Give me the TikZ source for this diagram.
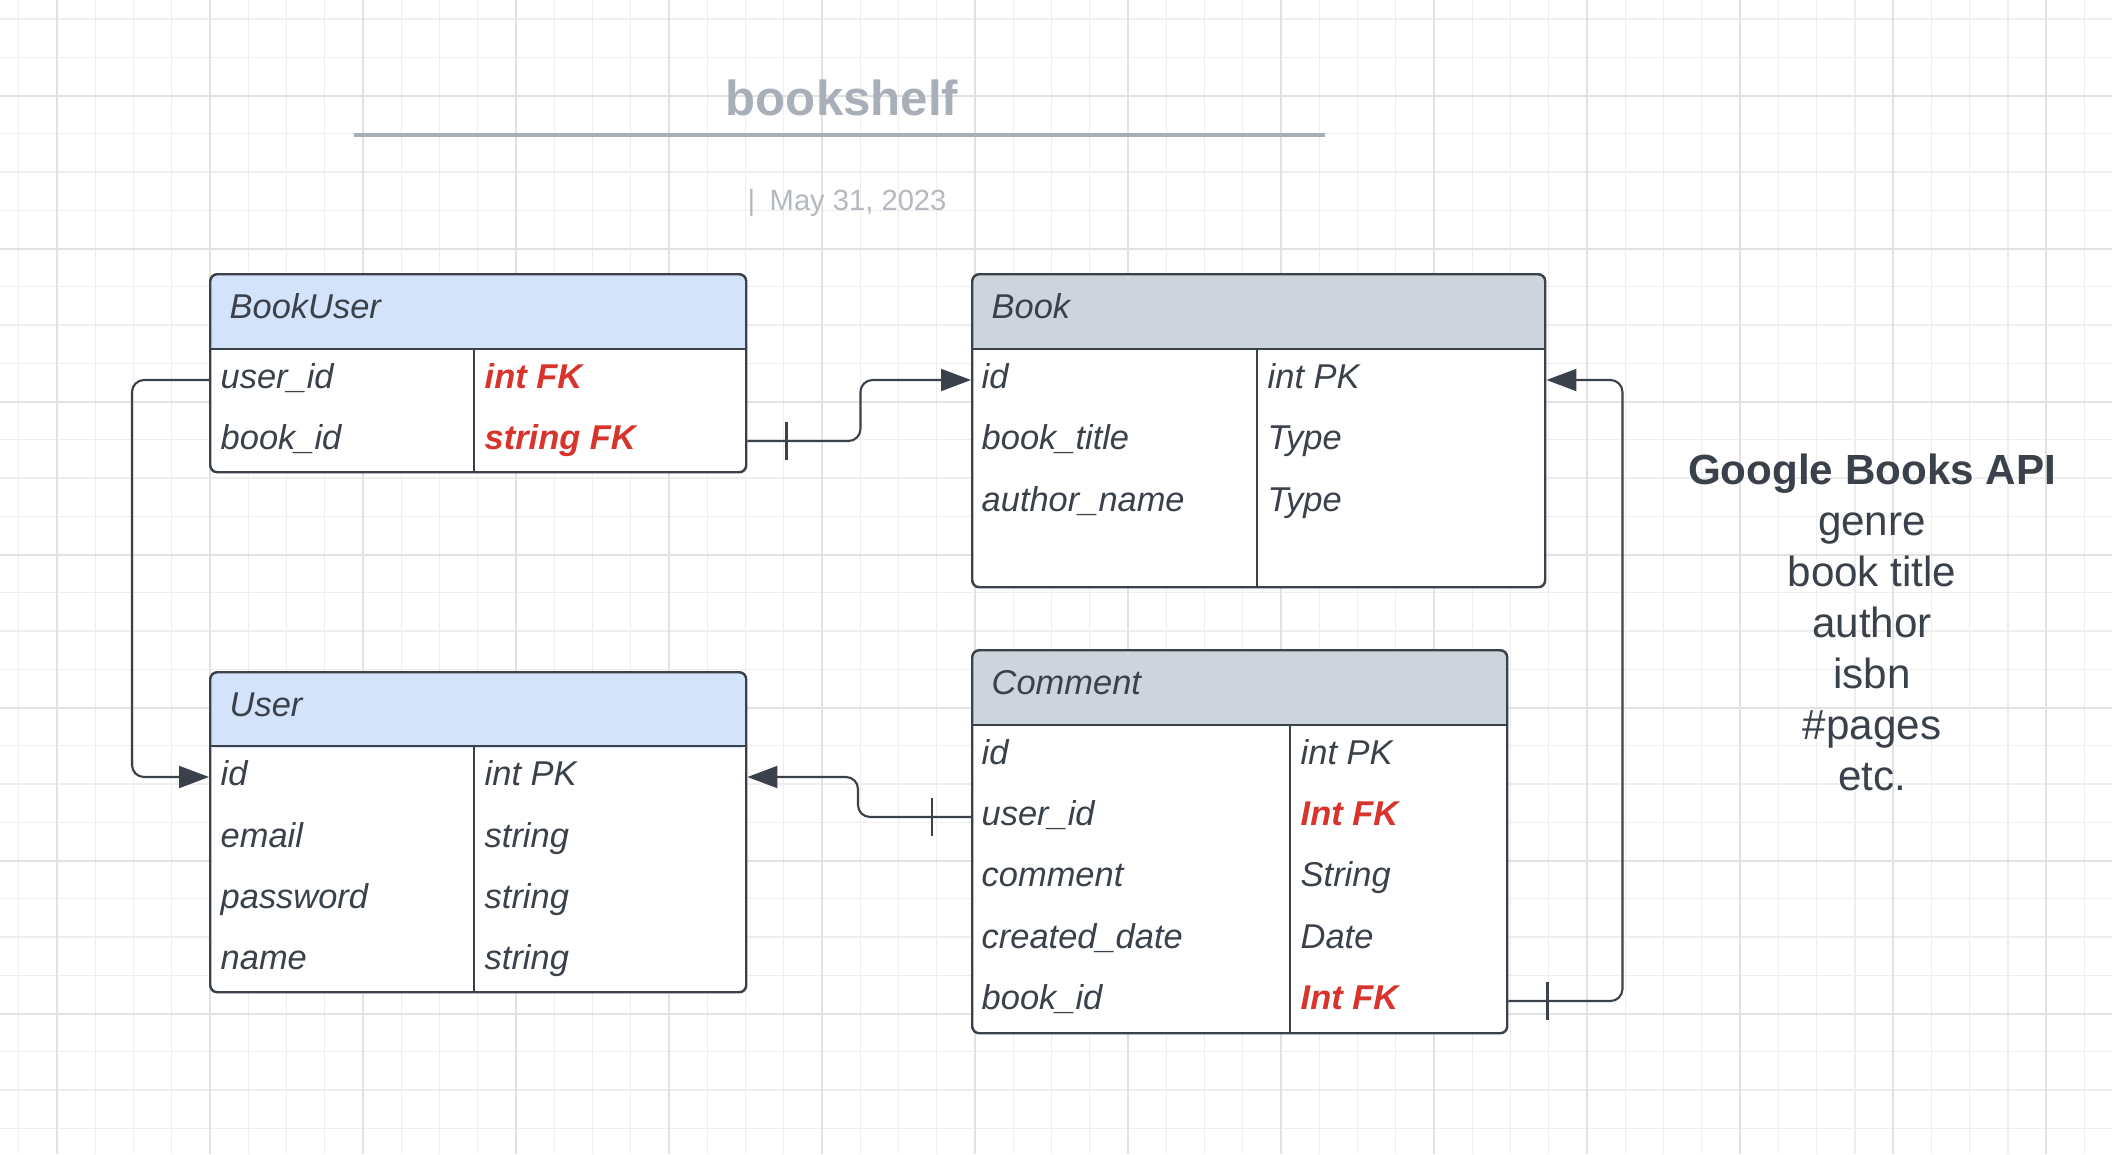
\documentclass[tikz,border=0pt]{standalone}
\usepackage{fontspec}
\setmainfont{Liberation Sans}
\usepackage{tikz}
\usetikzlibrary{calc}
\usetikzlibrary{positioning}
\usetikzlibrary{arrows.meta}
\definecolor{inkgray}{HTML}{3A414A}
\definecolor{fkred}{HTML}{D8342C}
\definecolor{hdblue}{HTML}{D3E3FA}
\definecolor{hdgray}{HTML}{CED4DB}
\definecolor{titlegray}{HTML}{A9AFB9}
\definecolor{dategray}{HTML}{B4B9C1}
\definecolor{gridminor}{HTML}{EEEEEE}
\definecolor{gridmajor}{HTML}{E2E2E2}
\tikzset{
    tblbox/.style={
        draw=inkgray,
        line width=0.7pt,
        fill=white,
        rounded corners=2pt,
        anchor=north west,
        inner sep=0pt
    },
    % header band, clipped to the rounded box
    hdrfill/.style={
        path picture={\fill[#1] (path picture bounding box.north west)
            rectangle ([yshift=-0.76cm]path picture bounding box.north east);}
    },
    tblline/.style={draw=inkgray, line width=0.7pt},
    hdrtxt/.style={
        anchor=west,
        inner sep=0pt,
        text height=7pt,
        text depth=0pt,
        text=inkgray,
        font=\fontsize{9.8}{12}\selectfont\itshape
    },
    fieldtxt/.style={
        hdrtxt,
        text depth=2.3pt
    },
    fktxt/.style={
        fieldtxt,
        text=fkred,
        font=\fontsize{9.8}{12}\selectfont\bfseries\itshape
    },
    link/.style={
        draw=inkgray,
        line width=0.6pt,
        rounded corners=0.12cm,
        -{Triangle[length=0.3cm, width=0.22cm]}
    },
    onetick/.style={draw=inkgray, line width=0.6pt}
}

\begin{document}
\begin{tikzpicture}

    \useasboundingbox (0,0) rectangle (21.12,-11.54);
    \fill[white] (0,0) rectangle (21.12,-11.54);

    % grid
    \foreach \k in {0,...,54}
        \draw[gridminor, line width=0.4pt] ({0.1875+0.3825*\k},0) -- ++(0,-11.54);
    \foreach \k in {0,...,29}
        \draw[gridminor, line width=0.4pt] (0,{-0.19-0.3825*\k}) -- ++(21.12,0);
    \foreach \k in {0,...,13}
        \draw[gridmajor, line width=0.5pt] ({0.57+1.53*\k},0) -- ++(0,-11.54);
    \foreach \k in {0,...,6}
        \draw[gridmajor, line width=0.5pt] (0,{-0.96-1.53*\k}) -- ++(21.12,0);

    % title
    \node[text=titlegray, font=\fontsize{14}{16}\selectfont\bfseries] (title) at (8.42,-0.98) {bookshelf};
    \draw[titlegray, line width=1.1pt] (3.54,-1.35) -- (13.25,-1.35);
    \node[text=dategray, font=\fontsize{8.3}{10}\selectfont] (date) at (8.47,-2.03) {|\hspace{0.5em}May 31, 2023};

    % BookUser
    \node[tblbox, hdrfill=hdblue, minimum width=5.36cm, minimum height=1.98cm] (bookuser) at (2.09,-2.73) {};
    \draw[tblline] (2.09,-3.49) -- (7.45,-3.49);
    \draw[tblline] (4.74,-3.49) -- (4.74,-4.71);
    \node[hdrtxt] (bookuser-t) at (2.29,-3.06) {BookUser};
    \node[fieldtxt] (bu-f1) at (2.20,-3.80) {user\_id};
    \node[fktxt] (bu-t1) at (4.84,-3.80) {int FK};
    \node[fieldtxt] (bu-f2) at (2.20,-4.41) {book\_id};
    \node[fktxt] (bu-t2) at (4.84,-4.41) {string FK};

    % Book
    \node[tblbox, hdrfill=hdgray, minimum width=5.73cm, minimum height=3.13cm] (book) at (9.71,-2.73) {};
    \draw[tblline] (9.71,-3.49) -- (15.44,-3.49);
    \draw[tblline] (12.57,-3.49) -- (12.57,-5.86);
    \node[hdrtxt] (book-t) at (9.91,-3.06) {Book};
    \node[fieldtxt] (bk-f1) at (9.81,-3.80) {id};
    \node[fieldtxt] (bk-t1) at (12.67,-3.80) {int PK};
    \node[fieldtxt] (bk-f2) at (9.81,-4.41) {book\_title};
    \node[fieldtxt] (bk-t2) at (12.67,-4.41) {Type};
    \node[fieldtxt] (bk-f3) at (9.81,-5.03) {author\_name};
    \node[fieldtxt] (bk-t3) at (12.67,-5.03) {Type};

    % User
    \node[tblbox, hdrfill=hdblue, minimum width=5.36cm, minimum height=3.20cm] (user) at (2.09,-6.71) {};
    \draw[tblline] (2.09,-7.46) -- (7.45,-7.46);
    \draw[tblline] (4.74,-7.46) -- (4.74,-9.91);
    \node[hdrtxt] (user-t) at (2.29,-7.04) {User};
    \node[fieldtxt] (us-f1) at (2.20,-7.77) {id};
    \node[fieldtxt] (us-t1) at (4.84,-7.77) {int PK};
    \node[fieldtxt] (us-f2) at (2.20,-8.39) {email};
    \node[fieldtxt] (us-t2) at (4.84,-8.39) {string};
    \node[fieldtxt] (us-f3) at (2.20,-9.00) {password};
    \node[fieldtxt] (us-t3) at (4.84,-9.00) {string};
    \node[fieldtxt] (us-f4) at (2.20,-9.61) {name};
    \node[fieldtxt] (us-t4) at (4.84,-9.61) {string};

    % Comment
    \node[tblbox, hdrfill=hdgray, minimum width=5.35cm, minimum height=3.83cm] (comment) at (9.71,-6.49) {};
    \draw[tblline] (9.71,-7.25) -- (15.06,-7.25);
    \draw[tblline] (12.90,-7.25) -- (12.90,-10.32);
    \node[hdrtxt] (comment-t) at (9.91,-6.82) {Comment};
    \node[fieldtxt] (cm-f1) at (9.81,-7.56) {id};
    \node[fieldtxt] (cm-t1) at (13.00,-7.56) {int PK};
    \node[fieldtxt] (cm-f2) at (9.81,-8.17) {user\_id};
    \node[fktxt] (cm-t2) at (13.00,-8.17) {Int FK};
    \node[fieldtxt] (cm-f3) at (9.81,-8.78) {comment};
    \node[fieldtxt] (cm-t3) at (13.00,-8.78) {String};
    \node[fieldtxt] (cm-f4) at (9.81,-9.40) {created\_date};
    \node[fieldtxt] (cm-t4) at (13.00,-9.40) {Date};
    \node[fieldtxt] (cm-f5) at (9.81,-10.01) {book\_id};
    \node[fktxt] (cm-t5) at (13.00,-10.01) {Int FK};

    % relations
    \draw[link] (bookuser.west |- bu-f1) -- ++(-0.77,0) |- (user.west |- us-f1);
    \draw[link] (bookuser.east |- bu-f2) -- ++(0.39,0) coordinate (tick1) -- ++(0.74,0) |- (book.west |- bk-f1);
    \draw[link] (comment.west |- cm-f2) -- ++(-0.39,0) coordinate (tick2) -- ++(-0.74,0) |- (user.east |- us-f1);
    \draw[link] (comment.east |- cm-f5) -- ++(0.39,0) coordinate (tick3) -- ++(0.75,0) |- (book.east |- bk-f1);

    \draw[onetick] ([yshift=0.19cm]tick1) -- ([yshift=-0.19cm]tick1);
    \draw[onetick] ([yshift=0.19cm]tick2) -- ([yshift=-0.19cm]tick2);
    \draw[onetick] ([yshift=0.19cm]tick3) -- ([yshift=-0.19cm]tick3);

    % note
    \node[anchor=north, align=center, inner sep=0pt, text=inkgray, font=\fontsize{12}{14.5}\selectfont] (api) at (18.72,-4.53)
        {\textbf{Google Books API}\\genre\\book title\\author\\isbn\\\#pages\\etc.};

\end{tikzpicture}
\end{document}
